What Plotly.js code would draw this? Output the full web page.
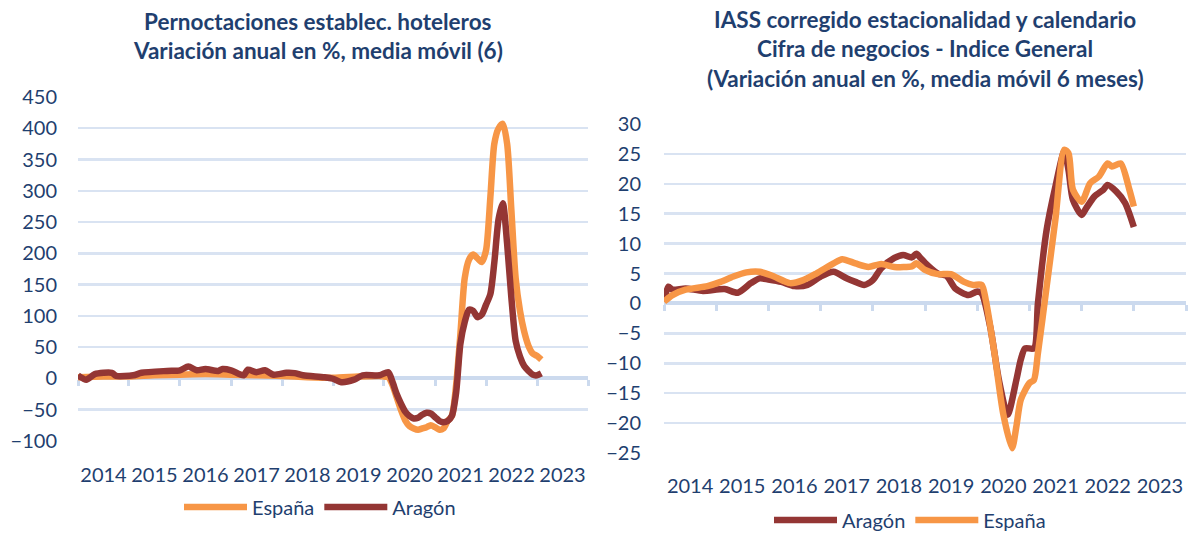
<!DOCTYPE html>
<html>
<head>
<meta charset="utf-8">
<script src="https://cdn.plot.ly/plotly-3.0.1.min.js"></script>
<style>
  html, body { margin: 0; padding: 0; background: #ffffff; }
  #chart { width: 1189px; height: 534px; }
</style>
</head>
<body>
<div id="chart"></div>
<script>
// ---------- Left chart: Pernoctaciones establec. hoteleros ----------
const leftEspanaDates = ['2014-01','2014-07','2015-01','2015-07','2016-01','2016-07','2017-01','2017-07','2018-01','2018-07','2019-01','2019-07','2019-12',
  '2020-01','2020-02','2020-03','2020-04','2020-05','2020-06','2020-07','2020-08','2020-09','2020-10','2020-11','2020-12',
  '2021-01','2021-02','2021-03','2021-04','2021-05','2021-06','2021-07','2021-08','2021-09','2021-10','2021-11','2021-12',
  '2022-01','2022-02','2022-03','2022-04','2022-05','2022-06','2022-07','2022-08','2022-09','2022-10','2022-11','2022-12',
  '2023-01','2023-02'];
const leftEspanaValues = [2,3,3,5,6,7,6,5,4,2,1,3,4,
  3,2,-10,-30,-50,-67,-76,-80,-82,-80,-78,-75,
  -78,-82,-80,-68,-60,-10,70,160,190,198,192,186,
  205,290,375,400,407,375,270,160,108,75,52,40,
  36,30];

const leftAragonDates = ['2014-01','2014-03','2014-05','2014-09','2014-10','2015-02','2015-04','2015-10','2016-01','2016-03','2016-05','2016-07',
  '2016-10','2016-11','2017-01','2017-04','2017-05','2017-07','2017-09','2017-11','2018-02','2018-04','2018-06','2018-11',
  '2019-01','2019-03','2019-06','2019-08','2019-12','2020-02','2020-03','2020-04','2020-05','2020-06','2020-07','2020-08',
  '2020-09','2020-10','2020-11','2020-12','2021-01','2021-02','2021-03','2021-04','2021-05','2021-06','2021-07','2021-08',
  '2021-09','2021-10','2021-11','2021-12','2022-01','2022-02','2022-03','2022-04','2022-05','2022-06','2022-07','2022-08',
  '2022-09','2022-10','2022-11','2022-12','2023-01','2023-02'];
const leftAragonValues = [5,-2,7,9,4,5,9,12,13,19,13,15,
  12,15,13,5,14,10,13,6,9,8.5,5,2,
  -0.5,-6,-2,5,5,10,-5,-25,-40,-53,-60,-64,
  -63,-58,-55,-56,-62,-68,-70,-68,-60,-22,55,90,
  110,108,98,102,118,135,185,255,280,215,130,60,
  35,20,12,6,5,8];

const leftYTicks = [-100,-50,0,50,100,150,200,250,300,350,400,450];

// ---------- Right chart: IASS Cifra de negocios ----------
const rightAragonDates = ['2014-01','2014-02','2014-03','2014-06','2014-10','2015-03','2015-06','2015-09','2015-11','2016-01','2016-04','2016-07',
  '2016-10','2017-01','2017-04','2017-07','2017-09','2017-11','2018-01','2018-03','2018-06','2018-08','2018-10','2018-11',
  '2018-12','2019-01','2019-04','2019-06','2019-08','2019-11','2020-01','2020-02','2020-04','2020-06','2020-08','2020-10',
  '2020-11','2020-12','2021-02','2021-03','2021-05','2021-07','2021-09','2021-10','2021-11','2022-01','2022-02','2022-04',
  '2022-06','2022-07','2022-09','2022-11','2023-01'];
const rightAragonValues = [0.5,2.8,2.3,2.5,2.1,2.4,1.8,3.4,4.2,4.0,3.6,2.9,
  3.1,4.5,5.3,4.2,3.6,3.1,3.9,5.9,7.6,8.1,7.7,8.3,
  7.6,6.8,5.0,4.6,2.5,1.4,2.0,1.7,-3.9,-12.8,-18.6,-12.8,
  -9.4,-7.5,-7.5,0,12.3,19.5,25.4,22.3,17.3,14.8,15.9,17.9,
  19.0,19.8,18.7,16.8,12.8];

const rightEspanaDates = ['2014-01','2014-03','2014-06','2014-11','2015-02','2015-05','2015-08','2015-11','2016-02','2016-06','2016-09','2016-12',
  '2017-04','2017-06','2017-09','2017-12','2018-03','2018-06','2018-10','2018-11','2018-12','2019-01','2019-04','2019-07',
  '2019-10','2019-12','2020-02','2020-03','2020-05','2020-07','2020-09','2020-10','2020-11','2021-01','2021-02','2021-03',
  '2021-05','2021-07','2021-09','2021-10','2021-11','2022-01','2022-03','2022-05','2022-07','2022-08','2022-10','2022-12',
  '2023-01'];
const rightEspanaValues = [0.3,1.4,2.3,2.9,3.6,4.5,5.2,5.3,4.6,3.4,3.9,5.0,
  6.7,7.4,6.7,6.1,6.6,6.1,6.2,6.7,6.2,5.6,4.9,4.9,
  3.6,3.1,3.1,0.6,-8.3,-18.4,-24.2,-20.6,-16.1,-13.3,-12.8,-8.3,
  2.8,14,25.7,25.1,19,17.0,20.1,21.2,23.4,22.9,23.4,19,
  16.2];

const rightYTicks = [-25,-20,-15,-10,-5,0,5,10,15,20,25,30];

const yearLabelsStart = '2014-01-01';
const yearLabelsEnd = '2024-01-01';

// ---------- styles ----------
const ORANGE = '#F79646';
const BROWN = '#943634';
const TEXT = '#1F3F6F';
const GRID = '#D9E3F2';
const AXIS = '#CCDAEE';
const FONT = 'Lato, "Open Sans", sans-serif';
const LW = 6.5;

const leftRange = [-100, 450];
const rightRange = [-25, 30];
const leftDomY = [0.1742, 0.8184];
const rightDomY = [0.1517, 0.7678];
function zeroPos(dom, rng) { return dom[0] + (0 - rng[0]) / (rng[1] - rng[0]) * (dom[1] - dom[0]); }

// Base x axes (x, x2) carry the zero line with tick marks; overlaying axes (x3, x4) carry the year labels.
const traces = [
  {x: leftEspanaDates, y: leftEspanaValues, name: 'España', type: 'scatter', mode: 'lines',
   line: {color: ORANGE, width: LW, shape: 'spline', smoothing: 0.7}, xaxis: 'x', yaxis: 'y', legend: 'legend', hoverinfo: 'skip'},
  {x: leftAragonDates, y: leftAragonValues, name: 'Aragón', type: 'scatter', mode: 'lines',
   line: {color: BROWN, width: LW, shape: 'spline', smoothing: 0.7}, xaxis: 'x3', yaxis: 'y', legend: 'legend', hoverinfo: 'skip'},
  {x: rightAragonDates, y: rightAragonValues, name: 'Aragón', type: 'scatter', mode: 'lines',
   line: {color: BROWN, width: LW, shape: 'spline', smoothing: 0.7}, xaxis: 'x2', yaxis: 'y2', legend: 'legend2', hoverinfo: 'skip'},
  {x: rightEspanaDates, y: rightEspanaValues, name: 'España', type: 'scatter', mode: 'lines',
   line: {color: ORANGE, width: LW, shape: 'spline', smoothing: 0.7}, xaxis: 'x4', yaxis: 'y2', legend: 'legend2', hoverinfo: 'skip'}
];

function labelAxis(overlay, anchor, standoff) {
  return {
    type: 'date', overlaying: overlay, anchor: anchor, side: 'bottom', range: [yearLabelsStart, yearLabelsEnd],
    tick0: yearLabelsStart, dtick: 'M12', tickformat: '%Y', ticklabelmode: 'period',
    ticks: '', showgrid: false, zeroline: false, showline: false, automargin: false,
    tickfont: {family: FONT, size: 20, color: TEXT}, ticklabelstandoff: standoff, fixedrange: true
  };
}
function zeroAxis(domain, pos) {
  return {
    type: 'date', domain: domain, anchor: 'free', position: pos, range: [yearLabelsStart, yearLabelsEnd],
    tick0: yearLabelsStart, dtick: 'M12', ticks: 'outside', ticklen: 6, tickwidth: 3, tickcolor: AXIS,
    showticklabels: false, showgrid: false, zeroline: false, showline: true, linecolor: AXIS, linewidth: 4,
    layer: 'below traces', automargin: false, fixedrange: true
  };
}
function valueAxis(domain, anchor, range, ticks, standoff) {
  return {
    domain: domain, anchor: anchor, range: range, tickvals: ticks, ticks: '',
    showgrid: true, gridcolor: GRID, gridwidth: 2.5, zeroline: false, showline: false, automargin: false,
    tickfont: {family: FONT, size: 20, color: TEXT}, ticklabelstandoff: standoff, fixedrange: true
  };
}

const titleFont = {family: FONT, size: 22.5, color: TEXT, weight: 'bold'};
function titleLine(text, x, y) {
  return {text: '<b>' + text + '</b>', x: x, y: y, xref: 'paper', yref: 'paper', xanchor: 'center', yanchor: 'middle',
          showarrow: false, font: titleFont};
}

const layout = {
  width: 1189, height: 534,
  margin: {l: 0, r: 0, t: 0, b: 0, pad: 0, autoexpand: false},
  paper_bgcolor: '#ffffff', plot_bgcolor: 'rgba(0,0,0,0)',
  showlegend: true,
  xaxis: zeroAxis([78/1189, 588/1189], zeroPos(leftDomY, leftRange)),
  yaxis: valueAxis(leftDomY, 'x', leftRange, leftYTicks, 20),
  xaxis3: labelAxis('x', 'y', 20),
  xaxis2: zeroAxis([664/1189, 1186/1189], zeroPos(rightDomY, rightRange)),
  yaxis2: valueAxis(rightDomY, 'x2', rightRange, rightYTicks, 22),
  xaxis4: labelAxis('x2', 'y2', 19),
  legend: {orientation: 'h', x: 320/1189, xanchor: 'center', y: (534-507)/534, yanchor: 'middle',
           font: {family: FONT, size: 20, color: TEXT}, itemwidth: 63, bgcolor: 'rgba(0,0,0,0)'},
  legend2: {orientation: 'h', x: 910/1189, xanchor: 'center', y: (534-520)/534, yanchor: 'middle',
           font: {family: FONT, size: 20, color: TEXT}, itemwidth: 63, bgcolor: 'rgba(0,0,0,0)'},
  annotations: [
    titleLine('Pernoctaciones establec. hoteleros', 318/1189, (534-22)/534),
    titleLine('Variación anual en %, media móvil (6)', 318/1189, (534-50)/534),
    titleLine('IASS corregido estacionalidad y calendario', 925/1189, (534-20)/534),
    titleLine('Cifra de negocios - Indice General', 925/1189, (534-48)/534),
    titleLine('(Variación anual en %, media móvil 6 meses)', 925/1189, (534-78)/534)
  ]
};

Plotly.newPlot('chart', traces, layout, {staticPlot: true, displayModeBar: false});
</script>
</body>
</html>
